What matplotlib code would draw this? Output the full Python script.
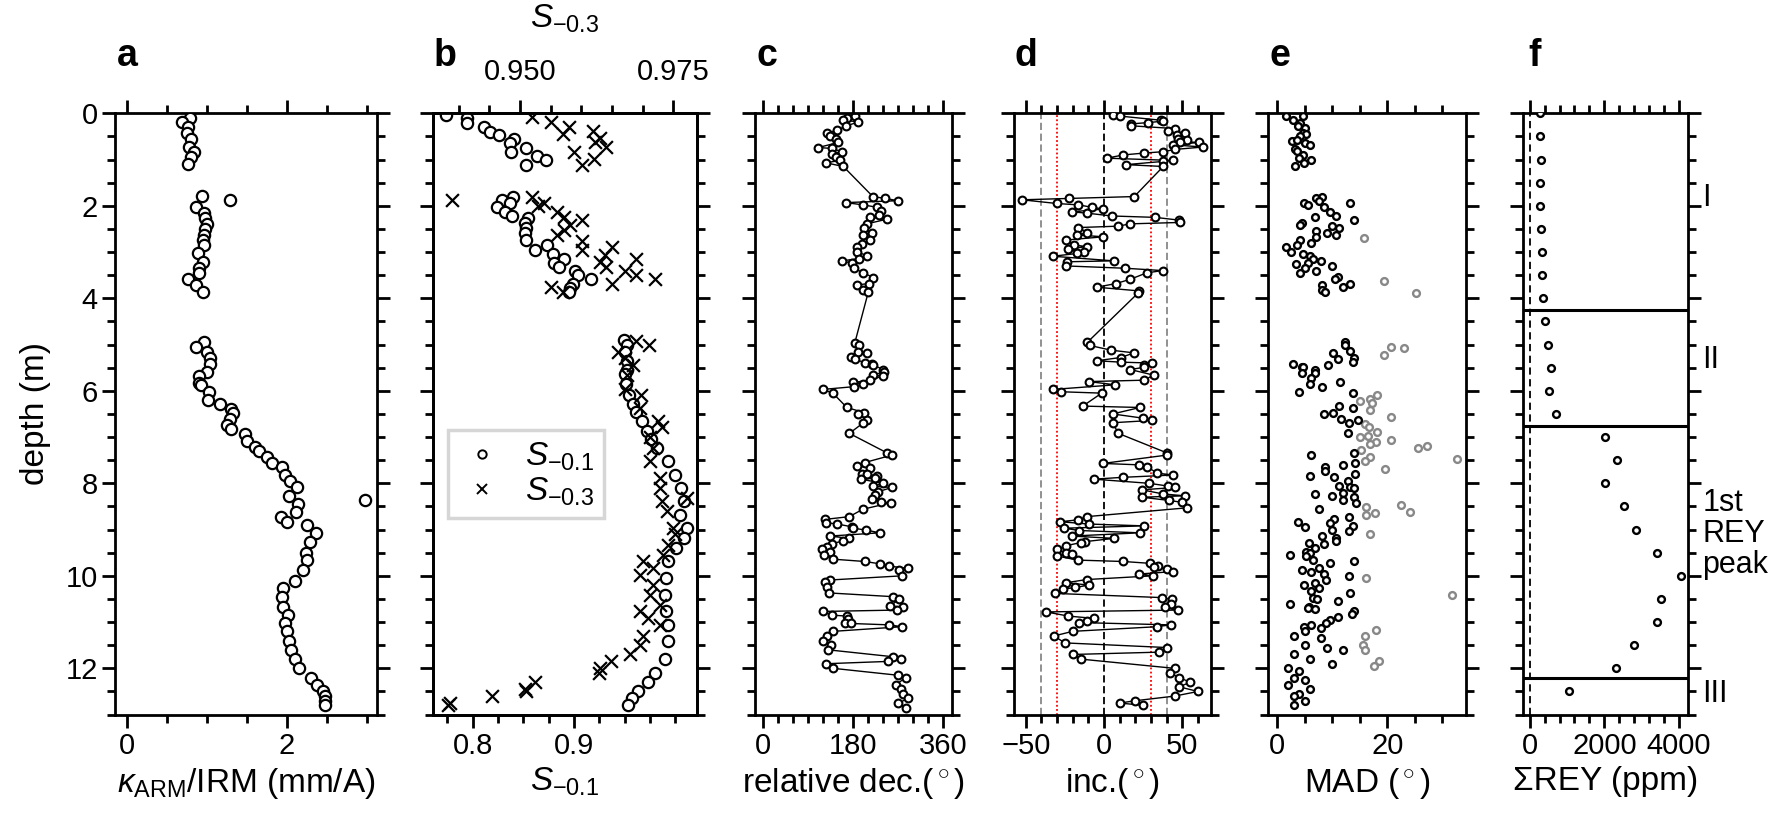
import matplotlib
matplotlib.use("Agg")
import matplotlib.pyplot as plt
from matplotlib import font_manager
from matplotlib.ticker import MultipleLocator, FixedLocator, FormatStrFormatter
from matplotlib.lines import Line2D
import matplotlib.transforms as mtransforms

_names = {f.name for f in font_manager.fontManager.ttflist}
NARROW = 'Liberation Sans Narrow' in _names
FAM = 'Liberation Sans Narrow' if NARROW else 'Liberation Sans'
plt.rcParams['font.family'] = [FAM, 'DejaVu Sans']
plt.rcParams['mathtext.fontset'] = 'custom'
plt.rcParams['mathtext.rm'] = FAM
plt.rcParams['mathtext.it'] = FAM + ':italic'
plt.rcParams['mathtext.bf'] = FAM + ':bold'
TS = 26 if NARROW else 21
LS = 29 if NARROW else 24
PS = 30 if NARROW else 27

# ---------------- data ----------------
# a: kARM/IRM
a_depth = [0.11, 0.18, 0.29, 0.43, 0.56, 0.72, 0.83, 0.95, 1.10,
           1.78, 1.87, 2.03, 2.16, 2.27, 2.39, 2.51, 2.63, 2.74, 2.85, 3.03, 3.22, 3.35, 3.46, 3.59, 3.71, 3.86,
           4.94, 5.05, 5.15, 5.30, 5.41, 5.59, 5.69, 5.84, 5.87, 6.02, 6.19, 6.28, 6.40, 6.47, 6.61, 6.74, 6.83,
           6.93, 7.08, 7.22, 7.31, 7.44, 7.57, 7.64, 7.82, 7.94, 8.09, 8.27, 8.37, 8.45, 8.63, 8.73, 8.83, 8.90,
           9.08, 9.26, 9.51, 9.66, 9.87, 10.12, 10.27, 10.46, 10.67, 10.85, 11.03,
           11.2, 11.4, 11.6, 11.8, 12.0, 12.2, 12.35, 12.5, 12.6, 12.7, 12.8]
a_val = [0.79, 0.69, 0.77, 0.75, 0.81, 0.78, 0.84, 0.81, 0.77,
         0.94, 1.29, 0.87, 0.97, 0.98, 1.00, 0.98, 0.97, 0.96, 0.97, 0.89, 0.96, 0.91, 0.90, 0.77, 0.87, 0.95,
         0.97, 0.87, 1.00, 1.04, 1.04, 1.01, 0.91, 0.91, 0.93, 1.03, 1.02, 1.17, 1.31, 1.33, 1.29, 1.26, 1.31,
         1.48, 1.50, 1.60, 1.66, 1.75, 1.82, 1.94, 1.98, 2.04, 2.13, 2.03, 2.98, 2.14, 2.12, 1.93, 2.01, 2.25,
         2.37, 2.29, 2.24, 2.25, 2.20, 2.10, 1.96, 1.94, 1.96, 2.02, 1.98,
         2.00, 2.03, 2.05, 2.10, 2.15, 2.30, 2.38, 2.45, 2.48, 2.48, 2.48]

# b: S-0.1 (circles, bottom axis)
b1_depth = [0.04, 0.11, 0.20, 0.29, 0.40, 0.47, 0.56, 0.64, 0.74, 0.83, 0.92, 1.02, 1.12,
            1.80, 1.87, 1.95, 2.02, 2.13, 2.22, 2.27, 2.38, 2.49, 2.59, 2.74, 2.85, 2.96, 3.04, 3.14,
            3.24, 3.32, 3.40, 3.50, 3.59, 3.68, 3.78, 3.86,
            4.90, 5.00, 5.15, 5.35, 5.55, 5.64, 5.85, 6.08, 6.29, 6.45, 6.65, 6.87, 7.05, 7.23, 7.52,
            7.81, 8.10, 8.39, 8.68, 8.97, 9.18, 9.40, 9.69, 10.05, 10.41, 10.77, 11.06,
            11.4, 11.8, 12.1, 12.3, 12.5, 12.65, 12.8]
b1_val = [0.774, 0.794, 0.794, 0.811, 0.817, 0.826, 0.841, 0.837, 0.853, 0.838, 0.863, 0.872, 0.853,
          0.840, 0.829, 0.837, 0.824, 0.832, 0.839, 0.855, 0.852, 0.853, 0.852, 0.853, 0.873, 0.862, 0.879, 0.890,
          0.880, 0.885, 0.901, 0.904, 0.917, 0.899, 0.896, 0.895,
          0.949, 0.952, 0.950, 0.952, 0.952, 0.950, 0.951, 0.954, 0.958, 0.961, 0.967, 0.972, 0.976, 0.982, 0.993,
          1.000, 1.006, 1.008, 1.005, 1.011, 1.008, 1.001, 0.993, 0.991, 0.990, 0.991, 0.993,
          0.993, 0.990, 0.980, 0.973, 0.963, 0.957, 0.953]

# b: S-0.3 (crosses, top axis)
b3_depth = [0.08, 0.19, 0.29, 0.38, 0.45, 0.54, 0.63, 0.72, 0.83, 0.99, 1.12,
            1.80, 1.87, 1.93, 2.00, 2.13, 2.24, 2.31, 2.42, 2.52, 2.63, 2.77, 2.89, 2.96, 3.06, 3.14,
            3.21, 3.32, 3.40, 3.50, 3.59, 3.68, 3.76, 3.86,
            4.92, 5.00, 5.15, 5.30, 5.45, 5.66, 5.95, 6.10, 6.37, 6.65, 6.79, 7.00, 7.23, 7.52, 7.88,
            8.10, 8.31, 8.39, 8.60, 8.97, 9.10, 9.34, 9.55, 9.69, 9.83, 9.98, 10.19, 10.41, 10.62,
            10.77, 10.91, 11.06, 11.3, 11.5, 11.7, 11.85, 12.0, 12.1, 12.3, 12.45, 12.5, 12.6, 12.75, 12.8]
b3_val = [0.9519, 0.9550, 0.9580, 0.9619, 0.9570, 0.9630, 0.9622, 0.9640, 0.9588, 0.9621, 0.9601,
          0.9519, 0.9390, 0.9539, 0.9530, 0.9561, 0.9572, 0.9601, 0.9582, 0.9572, 0.9561, 0.9601, 0.9650, 0.9601,
          0.9639, 0.9689, 0.9630, 0.9641, 0.9671, 0.9689, 0.9720, 0.9650, 0.9550, 0.9570,
          0.9689, 0.9711, 0.9660, 0.9671, 0.9685, 0.9674, 0.9671, 0.9698, 0.9696, 0.9725, 0.9731, 0.9712,
          0.9717, 0.9712, 0.9728, 0.9728, 0.9772, 0.9731, 0.9739, 0.9750, 0.9753, 0.9742, 0.9734, 0.9701,
          0.9717, 0.9696, 0.9717, 0.9712, 0.9728, 0.9696, 0.9709, 0.9728, 0.9700, 0.9695, 0.9680, 0.9648,
          0.9630, 0.9629, 0.9524, 0.9509, 0.9510, 0.9454, 0.9386, 0.9382]

# c: relative declination
c_depth = [0.06, 0.10, 0.14, 0.19, 0.27, 0.37, 0.42, 0.49, 0.56, 0.63, 0.74, 0.76, 0.83, 0.88, 0.95, 1.02, 1.07, 1.15,
           1.80, 1.84, 1.89, 1.93, 1.98, 2.03, 2.11, 2.20, 2.25, 2.29, 2.39, 2.49, 2.58, 2.63, 2.75, 2.83, 2.88,
           2.99, 3.08, 3.14, 3.19, 3.24, 3.35, 3.45, 3.55, 3.68, 3.71, 3.81, 3.86,
           4.96, 5.01, 5.15, 5.18, 5.26, 5.32, 5.39, 5.41, 5.44, 5.54, 5.59, 5.66, 5.68, 5.77, 5.82, 5.85, 5.91,
           5.97, 6.05, 6.36, 6.47, 6.50, 6.63, 6.70, 6.92, 7.34, 7.39, 7.55, 7.63, 7.66, 7.79, 7.80, 7.84, 7.89,
           7.91, 8.00, 8.06, 8.09, 8.18, 8.25, 8.33, 8.40, 8.42, 8.56, 8.72, 8.78, 8.85, 8.88, 8.94, 8.97, 9.01,
           9.07, 9.14, 9.19, 9.24, 9.31, 9.37, 9.42, 9.48, 9.55, 9.64, 9.69, 9.74, 9.79, 9.84, 9.87, 10.0,
           10.09, 10.13, 10.24, 10.37, 10.45, 10.51, 10.65, 10.68, 10.74, 10.77, 10.85, 10.87, 10.94, 11.01,
           11.03, 11.06, 11.10,
           11.2, 11.3, 11.4, 11.5, 11.6, 11.75, 11.8, 11.85, 11.9, 12.0, 12.15, 12.2, 12.35, 12.45, 12.55,
           12.65, 12.75, 12.85]
c_val = [183, 168, 159, 190, 166, 147, 128, 133, 145, 150, 110, 137, 157, 137, 145, 153, 125, 160,
         219, 243, 270, 165, 199, 227, 235, 232, 213, 247, 207, 201, 217, 199, 213, 197, 187,
         187, 207, 192, 157, 177, 181, 200, 220, 212, 187, 199, 210,
         183, 192, 190, 208, 175, 183, 203, 217, 219, 240, 241, 219, 239, 213, 180, 199, 181,
         119, 139, 167, 201, 190, 208, 199, 172, 247, 257, 203, 188, 213, 197, 208, 227, 223,
         195, 240, 220, 257, 230, 223, 217, 235, 255, 199, 172, 123, 125, 148, 177, 180, 205,
         233, 133, 172, 160, 137, 127, 117, 133, 121, 140, 203, 233, 252, 290, 272, 277,
         133, 123, 127, 132, 259, 272, 253, 280, 268, 119, 137, 167, 170, 163,
         175, 252, 277,
         140, 128, 120, 135, 130, 260, 275, 250, 125, 140, 270, 285, 265, 275, 280,
         290, 270, 285]

# d: inclination
d_depth = [0.04, 0.06, 0.15, 0.17, 0.20, 0.23, 0.27, 0.33, 0.38, 0.42, 0.47, 0.56, 0.57, 0.61, 0.63, 0.68,
           0.73, 0.78, 0.83, 0.86, 0.90, 0.97, 1.02, 1.04, 1.11, 1.15,
           1.80, 1.84, 1.87, 1.95, 1.98, 2.03, 2.07, 2.13, 2.16, 2.22, 2.25, 2.31, 2.36, 2.39, 2.44, 2.47,
           2.58, 2.63, 2.67, 2.74, 2.85, 2.88, 2.94, 3.00, 3.03, 3.09, 3.19, 3.21, 3.30, 3.35, 3.40, 3.45,
           3.59, 3.68, 3.76, 3.84, 3.88,
           4.95, 5.02, 5.12, 5.18, 5.28, 5.35, 5.38, 5.40, 5.45, 5.49, 5.54, 5.66, 5.77, 5.80, 5.87, 5.97,
           6.02, 6.05, 6.33, 6.36, 6.50, 6.59, 6.64, 6.69, 6.92, 7.34, 7.39, 7.57, 7.60, 7.65, 7.78, 7.82,
           7.87, 7.91, 8.00, 8.06, 8.09, 8.14, 8.23, 8.27, 8.30, 8.37, 8.41, 8.53, 8.72, 8.79, 8.83, 8.88,
           8.92, 8.97, 9.02, 9.07, 9.14, 9.19, 9.26, 9.28, 9.35, 9.43, 9.50, 9.52, 9.57, 9.66, 9.69, 9.73,
           9.79, 9.81, 9.86, 9.91, 9.96, 10.00, 10.08, 10.15, 10.20, 10.25, 10.29, 10.38, 10.47, 10.51,
           10.60, 10.68, 10.74, 10.78, 10.87, 10.92, 10.97, 11.01, 11.06, 11.10,
           11.2, 11.3, 11.45, 11.55, 11.65, 11.7, 11.8, 12.0, 12.1, 12.2, 12.3, 12.4, 12.5, 12.6, 12.7,
           12.75, 12.8]
d_val = [5.9, 10.2, 36.3, 37.8, 28.3, 17.2, 17.2, 45.2, 41.0, 51.7, 46.3, 47.4, 52.8, 48.5, 60.8, 43.8,
         63.0, 45.6, 37.8, 25.5, 12.3, 1.7, 44.2, 37.8, 14.0, 37.8,
         19.3, -22.6, -52.4, -30.2, -16.4, -7.9, -0.4, -20.6, -10.6, 5.0, 32.6, 48.1, 48.5, 16.6, 9.1, -16.4,
         -10.6, -17.0, -0.4, -24.3, -19.0, -11.1, -23.2, -12.8, -17.0, -32.7, 6.1, -23.4, -24.3, 13.5, 37.4,
         27.2, 16.6, 7.7, -4.7, 22.5, 21.9,
         -10.6, -9.0, 4.3, 19.2, 10.6, -4.7, 10.6, 30.5, 25.5, 25.7, 16.8, 31.6, 25.7, -9.8, 7.2, -32.7,
         -27.6, -1.5, -13.6, 23.0, 5.5, 24.7, 30.5, 5.5, 9.1, 40.0, 40.0, -0.7, 22.0, 27.7, 34.1, 44.2,
         12.0, -6.4, 28.9, 41.0, 45.3, 24.1, 37.8, 51.7, 24.1, 41.6, 49.6, 52.8, -11.0, -16.8, -28.0, -9.8,
         25.7, -25.5, -15.7, 23.0, -20.6, 6.4, -12.1, -14.7, -24.5, -29.8, -24.5, -20.3, -30.2, -16.8, 12.4,
         29.4, 34.7, 31.6, 40.5, 43.8, 22.5, 31.0, -11.0, -24.5, -9.4, -18.5, -26.4, -31.3, 36.8, 43.2,
         42.5, 39.0, 47.4, -37.0, -22.8, -6.4, -11.0, -15.7, 42.5, 33.6,
         -20.0, -32.0, -25.0, 40.0, 35.0, -20.0, -15.0, 45.0, 42.0, 48.0, 55.0, 48.0, 60.0, 45.0, 20.0,
         10.0, 25.0]

# e: MAD (black = accepted, gray = rejected)
e_depth = [0.06, 0.06, 0.14, 0.21, 0.27, 0.32, 0.42, 0.44, 0.50, 0.59, 0.57, 0.65, 0.69, 0.78, 0.81, 0.90,
           0.97, 1.02, 1.07, 1.15,
           1.80, 1.84, 1.89, 1.93, 1.93, 1.98, 2.03, 2.13, 2.22, 2.25, 2.31, 2.38, 2.42, 2.44, 2.49, 2.54,
           2.58, 2.63, 2.67, 2.75, 2.81, 2.85, 2.88, 3.00, 3.04, 3.09, 3.14, 3.19, 3.23, 3.26, 3.30, 3.35,
           3.40, 3.45, 3.53, 3.59, 3.68, 3.71, 3.76, 3.81, 3.86,
           4.95, 5.01, 5.14, 5.18, 5.28, 5.32, 5.37, 5.41, 5.44, 5.48, 5.49, 5.54, 5.61, 5.62, 5.73, 5.82,
           5.85, 5.91, 6.02, 6.05, 6.33, 6.38, 6.47, 6.50, 6.61, 6.64, 6.69, 6.92, 7.34, 7.39, 7.55, 7.60,
           7.64, 7.74, 7.80, 7.84, 7.87, 7.94, 8.06, 8.08, 8.11, 8.20, 8.23, 8.27, 8.30, 8.36, 8.42, 8.56,
           8.72, 8.78, 8.83, 8.86, 8.92, 8.95, 9.01, 9.04, 9.14, 9.19, 9.24, 9.28, 9.31, 9.40, 9.48, 9.50,
           9.55, 9.58, 9.66, 9.69, 9.73, 9.84, 9.87, 9.91, 9.96, 10.0, 10.09, 10.15, 10.20, 10.27, 10.32,
           10.37, 10.47, 10.51, 10.54, 10.60, 10.67, 10.70, 10.72, 10.77, 10.83, 10.89, 10.96, 11.03, 11.06,
           11.10, 11.13,
           11.2, 11.3, 11.35, 11.5, 11.55, 11.6, 11.7, 11.8, 11.9, 12.0, 12.05, 12.2, 12.25, 12.35, 12.45,
           12.55, 12.6, 12.7, 12.8]
e_val = [1.6, 4.7, 2.9, 4.1, 3.8, 5.0, 4.7, 5.2, 4.2, 2.6, 3.5, 5.0, 5.9, 3.2, 3.5, 4.6,
         4.0, 6.1, 4.9, 3.2,
         8.1, 7.0, 7.5, 13.3, 4.9, 5.6, 8.5, 9.5, 10.7, 6.9, 13.9, 4.4, 4.1, 9.9, 11.3, 7.0,
         9.1, 10.7, 7.0, 4.1, 6.1, 3.5, 1.6, 2.4, 4.6, 5.9, 6.5, 7.9, 5.6, 3.4, 9.9, 5.0,
         7.0, 4.2, 11.0, 10.5, 13.2, 8.1, 11.9, 8.2, 8.7,
         12.3, 12.3, 13.2, 10.2, 13.9, 11.0, 13.8, 2.9, 9.3, 4.4, 4.6, 6.9, 6.9, 4.4, 6.1, 11.4,
         5.9, 8.1, 3.9, 13.8, 11.3, 13.8, 10.2, 8.5, 11.5, 14.7, 13.1, 12.9, 13.9, 6.1, 14.1, 12.0,
         8.7, 8.7, 14.1, 5.9, 10.3, 12.9, 11.3, 13.2, 13.9, 11.9, 6.9, 9.9, 13.9, 11.9, 14.3, 7.6,
         13.1, 10.3, 3.8, 9.5, 13.8, 5.0, 9.9, 13.1, 8.2, 10.7, 10.7, 5.8, 8.4, 6.9, 5.2, 5.9,
         2.3, 5.2, 6.5, 13.9, 9.6, 7.6, 4.4, 6.1, 8.5, 13.1, 8.9, 6.9, 4.9, 7.5, 6.2,
         13.3, 6.5, 7.2, 11.1, 2.3, 5.8, 5.5, 6.9, 13.9, 13.5, 11.1, 9.6, 8.9, 6.2,
         4.9, 7.9,
         5.0, 3.0, 8.0, 5.0, 9.0, 12.0, 3.0, 6.0, 10.0, 2.0, 4.0, 3.0, 5.0, 2.0, 6.0,
         4.0, 3.0, 5.0, 3.0]
eg_depth = [2.70, 3.62, 3.89, 5.05, 5.08, 5.23, 6.09, 6.17, 6.23, 6.26, 6.41, 6.56, 6.72, 6.79, 6.88,
            6.97, 7.00, 7.06, 7.10, 7.15, 7.19, 7.24, 7.29, 7.42, 7.47, 7.51, 7.70, 8.47, 8.51, 8.61,
            8.65, 8.68, 9.09, 10.05, 10.41, 11.17, 11.3, 11.5, 11.6, 11.85, 11.95]
eg_val = [15.8, 19.4, 25.3, 20.6, 23.0, 19.4, 18.1, 16.9, 15.0, 17.3, 16.9, 20.6, 15.9, 16.7, 18.1,
          16.4, 15.0, 20.6, 17.9, 16.9, 27.3, 25.5, 15.3, 16.9, 32.6, 15.9, 19.6, 22.4, 16.2, 24.2,
          17.8, 16.1, 16.9, 16.2, 31.7, 17.9, 16.0, 15.5, 16.0, 18.5, 17.5]

# f: sum REY
f_depth = [0.0, 0.5, 1.0, 1.5, 2.0, 2.5, 3.0, 3.5, 4.0, 4.5, 5.0, 5.5, 6.0, 6.5,
           7.0, 7.5, 8.0, 8.5, 9.0, 9.5, 10.0, 10.5, 11.0, 11.5, 12.0, 12.5]
f_val = [270, 270, 306, 288, 270, 306, 324, 333, 351, 423, 495, 559, 513, 694,
         2027, 2351, 2009, 2532, 2838, 3424, 4054, 3514, 3424, 2800, 2300, 1050]
unit_bounds = [4.25, 6.75, 12.2]
unit_labels = ["I", "II", "1st\nREY\npeak", "III"]
unit_label_depth = [1.83, 5.33, 9.1, 12.55]

# ---------------- layout ----------------
W, H = 1773, 824
TOP, BOT = 113.3, 714.6
fig = plt.figure(figsize=(W / 100, H / 100), dpi=100)


def add_ax(l, r):
    return fig.add_axes([l / W, 1 - BOT / H, (r - l) / W, (BOT - TOP) / H])


def style(ax, ylabels=False, top=True):
    ax.set_ylim(13, 0)
    ax.yaxis.set_major_locator(MultipleLocator(2))
    ax.yaxis.set_minor_locator(MultipleLocator(0.5))
    for s in ax.spines.values():
        s.set_linewidth(2)
    ax.tick_params(which='both', direction='out', top=top, right=True, width=2,
                   labelsize=TS, pad=3)
    ax.tick_params(which='major', length=9.5)
    ax.tick_params(which='minor', length=6)
    if not ylabels:
        ax.tick_params(labelleft=False)


axa = add_ax(115, 377)
axb = add_ax(433.3, 696.7)
axc = add_ax(755, 951.7)
axd = add_ax(1014, 1210.7)
axe = add_ax(1268.3, 1466)
axf = add_ax(1523, 1688.3)

# a
style(axa, ylabels=True)
axa.scatter(a_val, a_depth, s=66, facecolor='white', edgecolor='black', linewidth=1.6, zorder=3)
axa.set_xlim(-0.145, 3.13)
axa.xaxis.set_major_locator(FixedLocator([0, 2]))
axa.xaxis.set_minor_locator(MultipleLocator(0.5))
axa.set_ylabel('depth (m)', fontsize=LS, labelpad=10)
axa.set_xlabel('$\\kappa_{\\mathrm{ARM}}$/IRM (mm/A)', fontsize=LS)
axa.yaxis.set_major_formatter(FormatStrFormatter('%d'))

# b
style(axb, top=False)
axb.scatter(b1_val, b1_depth, s=66, facecolor='white', edgecolor='black', linewidth=1.6, zorder=3)
axb.set_xlim(0.7612, 1.021)
axb.xaxis.set_major_locator(FixedLocator([0.8, 0.9]))
axb.xaxis.set_minor_locator(MultipleLocator(0.025))
axb.xaxis.set_major_formatter(FormatStrFormatter('%.1f'))
axb.set_xlabel('$S_{-0.1}$', fontsize=LS)
axb2 = axb.twiny()
axb2.scatter(b3_val, b3_depth, s=85, marker='x', color='black', linewidth=1.6, zorder=3)
axb2.set_xlim(0.93587, 0.97882)
axb2.set_ylim(13, 0)
axb2.xaxis.set_major_locator(FixedLocator([0.95, 0.975]))
axb2.xaxis.set_minor_locator(MultipleLocator(0.005))
axb2.xaxis.set_major_formatter(FormatStrFormatter('%.3f'))
axb2.tick_params(which='both', direction='out', width=2, labelsize=TS, pad=10)
axb2.tick_params(which='major', length=9.5)
axb2.tick_params(which='minor', length=6)
axb2.set_xlabel('$S_{-0.3}$', fontsize=LS, labelpad=22)
for s in axb2.spines.values():
    s.set_linewidth(2)
h1 = Line2D([], [], ls='none', marker='o', ms=6, mfc='white', mec='black', mew=1.4)
h2 = Line2D([], [], ls='none', marker='x', ms=7, color='black', mew=1.4)
leg = axb2.legend([h1, h2], ['$S_{-0.1}$', '$S_{-0.3}$'], loc='upper left',
                  bbox_to_anchor=(0.057, 0.473), fontsize=LS, frameon=True, fancybox=False,
                  borderpad=0.3, handletextpad=0.6, labelspacing=0.1, handlelength=1.4,
                  borderaxespad=0)
leg.get_frame().set_edgecolor('#cccccc')
leg.get_frame().set_linewidth(2.5)

# c
style(axc)
axc.plot(c_val, c_depth, '-o', color='black', lw=1.0, ms=5.6, mfc='white', mec='black', mew=1.5)
axc.set_xlim(-16.7, 376.7)
axc.xaxis.set_major_locator(FixedLocator([0, 180, 360]))
axc.xaxis.set_minor_locator(MultipleLocator(30))
axc.set_xlabel('relative dec.($^\\circ$)', fontsize=LS)

# d
style(axd)
for xv, col, ls in [(-40, '#888888', (0, (4, 2))), (40, '#888888', (0, (4, 2))),
                    (-30, 'red', (0, (1, 1.3))), (30, 'red', (0, (1, 1.3))),
                    (0, 'black', (0, (4, 2)))]:
    axd.axvline(xv, color=col, ls=ls, lw=1.3, zorder=1)
axd.plot(d_val, d_depth, '-o', color='black', lw=1.0, ms=5.6, mfc='white', mec='black', mew=1.5, zorder=3)
axd.set_xlim(-57.5, 68.1)
axd.xaxis.set_major_locator(FixedLocator([-50, 0, 50]))
axd.xaxis.set_minor_locator(MultipleLocator(10))
axd.set_xlabel('inc.($^\\circ$)', fontsize=LS)

# e
style(axe)
axe.scatter(eg_val, eg_depth, s=24, facecolor='white', edgecolor='#888888', linewidth=1.7, zorder=2)
axe.scatter(e_val, e_depth, s=24, facecolor='white', edgecolor='black', linewidth=1.7, zorder=3)
axe.set_xlim(-1.64, 34.3)
axe.xaxis.set_major_locator(FixedLocator([0, 20]))
axe.xaxis.set_minor_locator(MultipleLocator(5))
axe.set_xlabel('MAD ($^\\circ$)', fontsize=LS)

# f
style(axf)
axf.axvline(0, color='black', ls=(0, (4, 2.5)), lw=1.3)
for yb in unit_bounds:
    axf.axhline(yb, color='black', lw=2.2)
axf.scatter(f_val, f_depth, s=24, facecolor='white', edgecolor='black', linewidth=1.7, zorder=3)
axf.set_xlim(-180, 4251)
axf.xaxis.set_major_locator(FixedLocator([0, 2000, 4000]))
axf.xaxis.set_minor_locator(MultipleLocator(400))
axf.set_xlabel('ΣREY (ppm)', fontsize=LS)
tr = mtransforms.blended_transform_factory(axf.transAxes, axf.transData)
for lab, yd in zip(unit_labels, unit_label_depth):
    axf.text(1.085, yd, lab, transform=tr, ha='left', va='center', fontsize=22, linespacing=1.05)

# panel letters
for ax, letter in zip([axa, axb, axc, axd, axe, axf], 'abcdef'):
    bb = ax.get_position()
    fig.text(bb.x0 + 12 / W, 1 - 56.5 / H, letter, fontsize=PS, fontweight='bold',
             ha='center', va='center')

fig.savefig('out.png', dpi=100)
